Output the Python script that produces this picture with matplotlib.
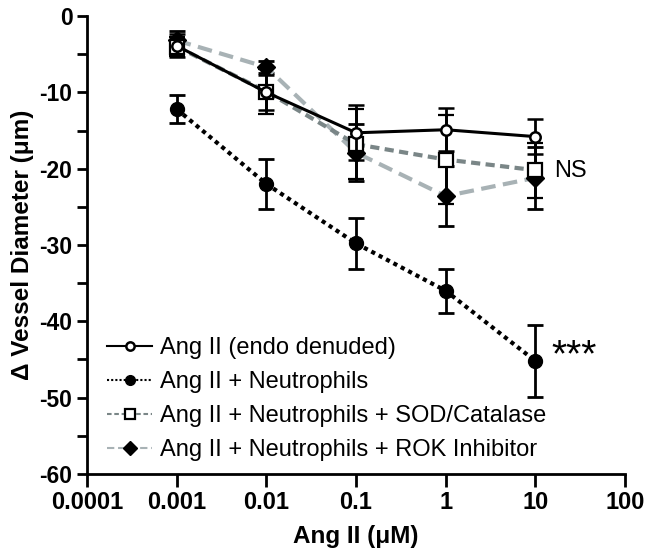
import numpy as np
import matplotlib
matplotlib.use("Agg")
from matplotlib import pyplot as plt
from matplotlib.lines import Line2D

plt.rcParams['font.family'] = ['Liberation Sans', 'DejaVu Sans']
plt.rcParams['axes.unicode_minus'] = False

conc = [0.001, 0.01, 0.1, 1, 10]

labels = ["Ang II (endo denuded)",
          "Ang II + Neutrophils",
          "Ang II + Neutrophils + SOD/Catalase",
          "Ang II + Neutrophils + ROK Inhibitor"]

endo_mean = [-3.9, -10.0, -15.3, -14.9, -15.8]
endo_err = [1.5, 2.3, 3.6, 2.8, 2.3]

neut_mean = [-12.2, -22.0, -29.8, -36.0, -45.2]
neut_err = [1.8, 3.3, 3.4, 2.9, 4.7]

sod_mean = [-4.0, -9.9, -16.8, -18.8, -20.2]
sod_err = [1.2, 3.0, 4.6, 5.8, 3.6]

rok_mean = [-3.2, -6.7, -17.9, -23.6, -21.2]
rok_err = [1.3, 0.8, 3.7, 3.9, 4.1]

fig = plt.figure(figsize=(6.45, 5.53), dpi=100)
ax = fig.add_axes([0.135, 0.143, 0.834, 0.828])

ebkw = dict(ecolor='black', elinewidth=2, capsize=5.5, capthick=2)

styles = [
    dict(color='black', lw=2.2, ls='-', marker='o', mfc='white', mec='black', mew=1.8),
    dict(color='black', lw=3, ls=(0, (1, 1)), marker='o', mfc='black', mec='black'),
    dict(color='#7a8687', lw=3, ls=(0, (2.2, 1.3)), marker='s', mfc='white', mec='black', mew=1.6),
    dict(color='#a8b2b5', lw=3, ls=(0, (3.5, 1.8)), marker='D', mfc='black', mec='black'),
]
sizes = [7.5, 10, 9.5, 9]
zs = [6, 3, 5, 4]

for m, e, st, ms, z in zip([endo_mean, neut_mean, sod_mean, rok_mean],
                           [endo_err, neut_err, sod_err, rok_err], styles, sizes, zs):
    ax.errorbar(conc, m, yerr=e, ms=ms, zorder=z, **st, **ebkw)

ax.set_xscale('log')
ax.set_xlim(0.0001, 100)
ax.set_ylim(-60, 0)
ax.set_xticks([0.0001, 0.001, 0.01, 0.1, 1, 10, 100])
ax.set_xticklabels(['0.0001', '0.001', '0.01', '0.1', '1', '10', '100'])
ax.xaxis.set_minor_locator(matplotlib.ticker.NullLocator())
ax.set_yticks(np.arange(-60, 1, 10))
ax.set_yticks(np.arange(-55, 0, 10), minor=True)

for s in ['top', 'right']:
    ax.spines[s].set_visible(False)
for s in ['left', 'bottom']:
    ax.spines[s].set_linewidth(2)
ax.tick_params(which='both', width=2, length=7, direction='out')
ax.tick_params(axis='x', labelsize=17, length=9)
ax.tick_params(axis='y', labelsize=16.5)
for t in ax.get_xticklabels() + ax.get_yticklabels():
    t.set_fontweight('bold')

ax.set_xlabel('Ang II (μM)', fontsize=17.5, fontweight='bold', labelpad=8)
ax.set_ylabel('Δ Vessel Diameter (μm)', fontsize=17.5, fontweight='bold', labelpad=4)

ax.text(15, -44.6, '***', fontsize=28, va='center', ha='left')
ax.text(16, -20.3, 'NS', fontsize=17, va='center', ha='left')

handles = []
for st, ms in zip(styles, [6, 7, 7, 7]):
    hst = dict(st)
    hst['lw'] = 1.5
    handles.append(Line2D([], [], ms=ms, **hst))

leg = ax.legend(handles, labels, loc='lower left', frameon=False,
                fontsize=17, handlelength=1.9, handletextpad=0.35,
                labelspacing=0.5, borderaxespad=0.0, bbox_to_anchor=(0.02, 0.008))

fig.savefig('out.png', dpi=100)
